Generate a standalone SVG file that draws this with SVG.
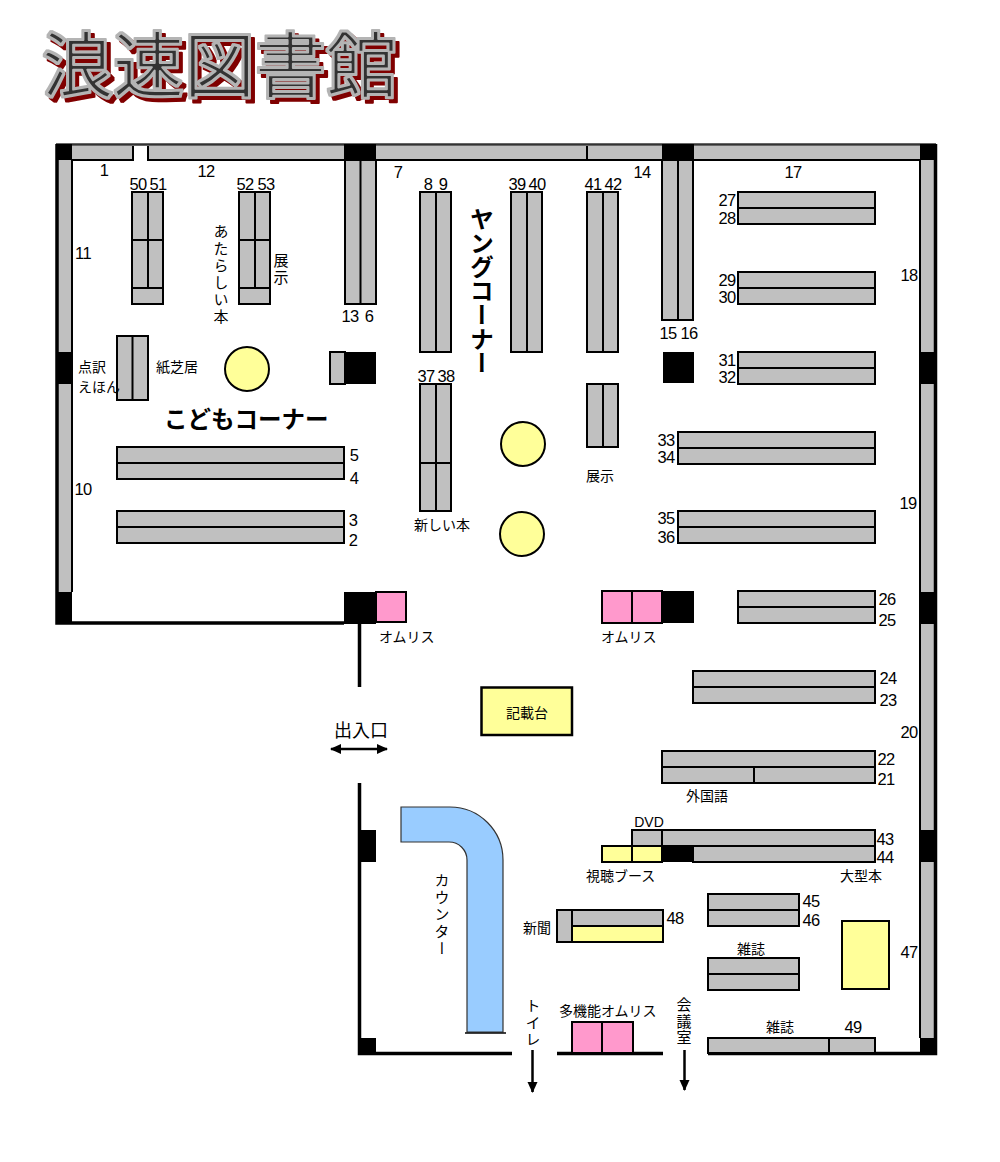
<svg xmlns="http://www.w3.org/2000/svg" width="1000" height="1162" viewBox="0 0 1000 1162">
<style>
text{font-family:"Noto Sans CJK JP","Liberation Sans",sans-serif;font-size:14px;fill:#000}
.n{font-family:"Liberation Sans",Arial,sans-serif;font-size:16.500px;letter-spacing:-0.600px;text-anchor:middle}
.v{writing-mode:vertical-rl;text-anchor:start;font-size:15px;letter-spacing:2px}
.big{font-size:23.500px;font-weight:700}
.ttl{font-size:71px;fill:#333;stroke:#b4b4b4;stroke-width:2px;stroke-linejoin:round}
.s{stroke:#000;stroke-width:2}
.g{fill:#c0c0c0}
.y{fill:#ffff99}
.p{fill:#ff99cc}
.k{fill:#000}
.l{fill:none;stroke:#000;stroke-width:2}
.t{stroke:#000;stroke-width:3.500;fill:none}
.a{stroke:#000;stroke-width:2.500;fill:none}
</style>
<defs>
<marker id="ah" markerWidth="12" markerHeight="12" refX="10" refY="5" orient="auto-start-reverse" markerUnits="userSpaceOnUse"><path d="M0 0L11 5L0 10Z" fill="#000"/></marker>
<filter id="sh" x="-5%" y="-10%" width="110%" height="125%" color-interpolation-filters="sRGB">
<feMorphology in="SourceAlpha" operator="dilate" radius="1" result="d"/>
<feFlood flood-color="#b4b4b4"/><feComposite in2="d" operator="in" result="outline"/>
<feOffset in="d" dx="4" dy="4" result="o"/>
<feFlood flood-color="#800000"/><feComposite in2="o" operator="in" result="shadow"/>
<feMerge><feMergeNode in="shadow"/><feMergeNode in="outline"/><feMergeNode in="SourceGraphic"/></feMerge>
</filter>
</defs>

<g id="title" filter="url(#sh)"><text x="42" y="91" class="ttl">浪速図書館</text></g>

<g id="walls">
<rect class="g" x="72" y="146" width="61" height="14"/>
<rect class="g" x="148" y="146" width="196" height="14"/>
<rect class="g" x="376" y="146" width="211" height="14"/>
<rect class="g" x="587" y="146" width="75" height="14"/>
<rect class="g" x="694" y="146" width="226" height="14"/>
<path class="l" d="M133 146V160H72M148 146V160H344M376 160H920M587 146V160"/>
<rect class="g" x="58" y="160" width="14" height="192"/>
<rect class="g" x="58" y="384" width="14" height="208"/>
<rect class="g" x="920" y="160" width="14" height="192"/>
<rect class="g" x="920" y="384" width="14" height="208"/>
<rect class="g" x="920" y="624" width="14" height="206"/>
<rect class="g" x="920" y="862" width="14" height="176"/>
<path d="M56 144.500H936" stroke="#333" stroke-width="2.500" fill="none"/>
<path class="t" d="M935.500 144V1053.500H708M57 144V623H344"/>
<path class="l" d="M72 160V592M920 160V1038"/>
<path class="k" d="M56 144h16v16h-16zM344 144h32v16h-32zM662 144h32v16h-32zM920 144h16v16h-16zM56 352h16v32h-16zM56 592h16v32h-16zM920 352h16v32h-16zM920 592h16v32h-16zM920 830h16v32h-16zM920 1038h16v16h-16zM344 592h32v32h-32zM360 830h16v32h-16zM360 1038h16v16h-16zM344 352h32v32h-32zM663 352h31v31h-31zM662 591h32v32h-32zM662 846h31v16h-31z"/>
<path class="t" d="M359.500 624V687M359.500 783V1053.500H512M557 1053.500H663"/>
</g>

<g id="shelf-50-51"><rect class="s g" x="132" y="192" width="31" height="112"/><path class="l" d="M148 192V288M132 240H163M132 288H163"/></g>
<g id="shelf-52-53"><rect class="s g" x="239" y="192" width="31" height="112"/><path class="l" d="M255 192V288M239 240H270M239 288H270"/></g>
<g id="shelf-13-6"><rect class="s g" x="345" y="160" width="31" height="144"/><path class="l" d="M360.500 160V304"/></g>
<g id="shelf-8-9"><rect class="s g" x="420" y="192" width="31" height="160"/><path class="l" d="M436 192V352"/></g>
<g id="shelf-39-40"><rect class="s g" x="511" y="192" width="31" height="160"/><path class="l" d="M527 192V352"/></g>
<g id="shelf-41-42"><rect class="s g" x="587" y="192" width="31" height="160"/><path class="l" d="M603 192V352"/></g>
<g id="shelf-15-16"><rect class="s g" x="662" y="160" width="31" height="160"/><path class="l" d="M678 160V320"/></g>
<g id="shelf-tenji-kamishibai"><rect class="s g" x="117" y="336" width="31" height="64"/><path class="l" d="M132.500 336V400"/></g>
<g id="shelf-small"><rect class="s g" x="330" y="352" width="15" height="32"/></g>
<g id="shelf-37-38"><rect class="s g" x="420" y="384" width="31" height="127"/><path class="l" d="M436 384V511M420 463H451"/></g>
<g id="shelf-display"><rect class="s g" x="587" y="384" width="31" height="63"/><path class="l" d="M603 384V447"/></g>
<g id="shelf-5-4"><rect class="s g" x="117" y="447" width="227" height="32"/><path class="l" d="M117 463H344"/></g>
<g id="shelf-3-2"><rect class="s g" x="117" y="511" width="227" height="32"/><path class="l" d="M117 527H344"/></g>
<g id="shelf-27-28"><rect class="s g" x="738" y="192" width="137" height="32"/><path class="l" d="M738 208H875"/></g>
<g id="shelf-29-30"><rect class="s g" x="738" y="272" width="137" height="32"/><path class="l" d="M738 288H875"/></g>
<g id="shelf-31-32"><rect class="s g" x="738" y="352" width="137" height="32"/><path class="l" d="M738 368H875"/></g>
<g id="shelf-33-34"><rect class="s g" x="678" y="432" width="197" height="32"/><path class="l" d="M678 448H875"/></g>
<g id="shelf-35-36"><rect class="s g" x="678" y="511" width="197" height="32"/><path class="l" d="M678 527H875"/></g>
<g id="shelf-26-25"><rect class="s g" x="738" y="591" width="137" height="32"/><path class="l" d="M738 607H875"/></g>
<g id="shelf-24-23"><rect class="s g" x="693" y="671" width="182" height="32"/><path class="l" d="M693 687H875"/></g>
<g id="shelf-22-21"><rect class="s g" x="662" y="751" width="213" height="32"/><path class="l" d="M662 767H875M754 767V783"/></g>
<g id="shelf-43-44">
<rect class="s g" x="632" y="830" width="243" height="16"/><path class="l" d="M662 830V846"/>
<rect class="s g" x="693" y="846" width="182" height="16"/>
<rect class="s y" x="602" y="846" width="30" height="16"/><rect class="s y" x="632" y="846" width="30" height="16"/>
</g>
<g id="shelf-45-46"><rect class="s g" x="708" y="894" width="91" height="32"/><path class="l" d="M708 910H799"/></g>
<g id="shelf-zasshi"><rect class="s g" x="708" y="958" width="91" height="32"/><path class="l" d="M708 974H799"/></g>
<g id="table-47"><rect class="s y" x="842" y="921" width="47" height="68"/></g>
<g id="shelf-48"><rect class="s g" x="557" y="910" width="15" height="32"/><rect class="s g" x="572" y="910" width="91" height="16"/><rect class="s y" x="572" y="926" width="91" height="16"/></g>
<g id="shelf-49"><rect class="s g" x="708" y="1038" width="121" height="15"/><rect class="s g" x="829" y="1038" width="46" height="15"/></g>

<g id="omuris"><rect class="s p" x="376" y="592" width="30" height="30"/><rect class="s p" x="602" y="591" width="30" height="32"/><rect class="s p" x="632" y="591" width="30" height="32"/><rect class="s p" x="572" y="1022" width="30" height="31"/><rect class="s p" x="602" y="1022" width="31" height="31"/></g>
<g id="pillars-round"><circle class="s y" cx="247" cy="369" r="22"/><circle class="s y" cx="523" cy="444" r="22"/><circle class="s y" cx="522" cy="534" r="22"/></g>
<g id="desk"><rect class="s y" x="481.500" y="687.500" width="90.500" height="47.500" style="stroke-width:2.500"/></g>
<g id="counter"><path d="M401 807H450A53 53 0 0 1 503 860V1032H467V860A18 18 0 0 0 449 842H401Z" fill="#99ccff" stroke="#333" stroke-width="1.200"/><path d="M465 1033H506" stroke="#000" stroke-width="1.500"/></g>

<g id="connectors">
<path class="a" d="M331 749H387" marker-start="url(#ah)" marker-end="url(#ah)"/>
<path class="a" d="M532.500 1050V1092" marker-end="url(#ah)"/>
<path class="a" d="M684.500 1050V1090" marker-end="url(#ah)"/>
</g>

<g id="labels-numbers">
<text class="n" x="104" y="176">1</text><text class="n" x="206" y="177">12</text><text class="n" x="398" y="178">7</text><text class="n" x="642" y="178">14</text><text class="n" x="793" y="178">17</text>
<text class="n" x="138" y="190">50</text><text class="n" x="158" y="190">51</text><text class="n" x="245" y="190">52</text><text class="n" x="266" y="190">53</text>
<text class="n" x="83" y="259">11</text><text class="n" x="83" y="495">10</text><text class="n" x="909" y="281">18</text><text class="n" x="908" y="509">19</text><text class="n" x="909" y="738">20</text>
<text class="n" x="350" y="322">13</text><text class="n" x="369" y="322">6</text><text class="n" x="428" y="190">8</text><text class="n" x="443" y="190">9</text>
<text class="n" x="517" y="190">39</text><text class="n" x="537" y="190">40</text><text class="n" x="593" y="190">41</text><text class="n" x="613" y="190">42</text>
<text class="n" x="668" y="339">15</text><text class="n" x="689" y="339">16</text><text class="n" x="426" y="382">37</text><text class="n" x="446" y="382">38</text>
<text class="n" x="727" y="206">27</text><text class="n" x="727" y="224">28</text><text class="n" x="727" y="286">29</text><text class="n" x="727" y="303">30</text><text class="n" x="727" y="366">31</text><text class="n" x="727" y="383">32</text>
<text class="n" x="666" y="446">33</text><text class="n" x="666" y="463">34</text><text class="n" x="666" y="524">35</text><text class="n" x="666" y="543">36</text>
<text class="n" x="354" y="461">5</text><text class="n" x="354" y="484">4</text><text class="n" x="353" y="526">3</text><text class="n" x="353" y="546">2</text>
<text class="n" x="887" y="605">26</text><text class="n" x="887" y="626">25</text><text class="n" x="888" y="684">24</text><text class="n" x="888" y="706">23</text><text class="n" x="886" y="765">22</text><text class="n" x="886" y="785">21</text>
<text class="n" x="885" y="845">43</text><text class="n" x="885" y="863">44</text><text class="n" x="811" y="907">45</text><text class="n" x="811" y="926">46</text><text class="n" x="909" y="958">47</text><text class="n" x="675" y="924">48</text><text class="n" x="853" y="1033">49</text>
<text class="n" x="649" y="827" style="font-size:14px;letter-spacing:0">DVD</text>
</g>
<g id="labels-text">
<text x="221" y="224" class="v">あたらしい本</text>
<text x="281" y="253" class="v">展示</text>
<text x="78" y="372">点訳</text><text x="78" y="392">えほん</text>
<text x="156" y="372">紙芝居</text>
<text x="164" y="428" class="big">こどもコーナー</text>
<text x="482" y="207" class="v big" style="font-size:24px;letter-spacing:0">ヤングコーナー</text>
<text x="586" y="481">展示</text>
<text x="414" y="530">新しい本</text>
<text x="379" y="642">オムリス</text>
<text x="601" y="642">オムリス</text>
<text x="334" y="737" style="font-size:18px">出入口</text>
<text x="506" y="718">記載台</text>
<text x="686" y="801">外国語</text>
<text x="586" y="881">視聴ブース</text>
<text x="840" y="881">大型本</text>
<text x="523" y="933">新聞</text>
<text x="737" y="954">雑誌</text>
<text x="766" y="1032">雑誌</text>
<text x="559" y="1016">多機能オムリス</text>
<text x="442" y="873" class="v">カウンター</text>
<text x="533" y="998" class="v">トイレ</text>
<text x="684" y="997" class="v" style="letter-spacing:1.500px">会議室</text>
</g>
</svg>
